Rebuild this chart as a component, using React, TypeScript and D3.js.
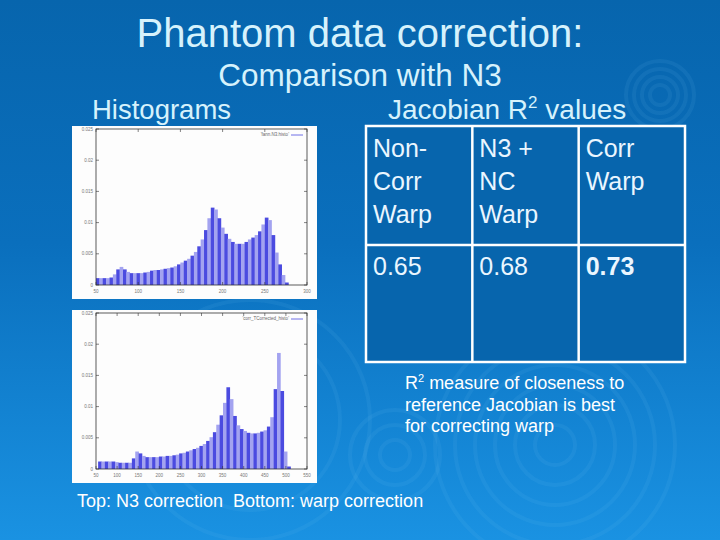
import React from 'react';
import * as d3 from 'd3';

// top histogram (N3 correction), bin width 4
const topBins = [50, 54, 58, 62, 66, 70, 74, 78, 82, 86, 90, 94, 98, 102, 106, 110, 114, 118, 122, 126, 130, 134, 138, 142, 146, 150, 154, 158, 162, 166, 170, 174, 178, 182, 186, 190, 194, 198, 202, 206, 210, 214, 218, 222, 226, 230, 234, 238, 242, 246, 250, 254, 258, 262, 266, 270, 274];
const topValues = [0.0011, 0.0011, 0.0011, 0.0011, 0.0012, 0.0017, 0.0025, 0.0029, 0.0025, 0.0021, 0.0019, 0.0019, 0.0019, 0.0019, 0.002, 0.0021, 0.0023, 0.0024, 0.0024, 0.0025, 0.0026, 0.0027, 0.0028, 0.003, 0.0033, 0.0036, 0.0039, 0.0042, 0.0047, 0.0053, 0.0062, 0.0073, 0.0088, 0.0107, 0.0124, 0.0121, 0.0107, 0.0092, 0.0082, 0.0074, 0.0069, 0.0066, 0.0066, 0.0066, 0.0069, 0.0073, 0.0076, 0.008, 0.0086, 0.0097, 0.0108, 0.0104, 0.008, 0.0052, 0.0033, 0.0016, 0.0004];

// bottom histogram (warp correction), bin width 8
const bottomBins = [55, 63, 71, 79, 87, 95, 103, 111, 119, 127, 135, 143, 151, 159, 167, 175, 183, 191, 199, 207, 215, 223, 231, 239, 247, 255, 263, 271, 279, 287, 295, 303, 311, 319, 327, 335, 343, 351, 359, 367, 375, 383, 391, 399, 407, 415, 423, 431, 439, 447, 455, 463, 471, 479, 487, 495, 503];
const bottomValues = [0.0012, 0.0012, 0.0012, 0.0012, 0.0012, 0.0011, 0.001, 0.001, 0.001, 0.001, 0.0017, 0.0028, 0.0025, 0.0021, 0.0019, 0.0019, 0.0019, 0.0019, 0.002, 0.002, 0.0021, 0.0021, 0.0022, 0.0023, 0.0025, 0.0026, 0.0028, 0.003, 0.0032, 0.0034, 0.0037, 0.004, 0.0045, 0.0051, 0.0059, 0.0071, 0.0086, 0.0106, 0.0131, 0.0112, 0.0085, 0.007, 0.0064, 0.0061, 0.0058, 0.0057, 0.0057, 0.0058, 0.006, 0.0062, 0.0068, 0.0083, 0.0128, 0.0186, 0.0125, 0.0028, 0.0004];

const topXTicks = [50, 100, 150, 200, 250, 300];
const bottomXTicks = [50, 100, 150, 200, 250, 300, 350, 400, 450, 500, 550];
const yTicks = [0, 0.005, 0.01, 0.015, 0.02, 0.025];

const tableHeaders = [['Non-', 'Corr', 'Warp'], ['N3 +', 'NC', 'Warp'], ['Corr', 'Warp']];
const tableValues = ['0.65', '0.68', '0.73'];

const FONT = 'Liberation Sans, Arial, sans-serif';

interface HistProps {
  top: number;
  bins: number[];
  values: number[];
  binWidth: number;
  xTicks: number[];
  legend: string;
}

const Histogram: React.FC<HistProps> = ({ top, bins, values, binWidth, xTicks, legend }) => {
  const left = 96, right = 307;
  const plotTop = top + 2, plotBottom = top + 158;
  const x = d3.scaleLinear().domain([xTicks[0], xTicks[xTicks.length - 1]]).range([left, right]);
  const y = d3.scaleLinear().domain([0, 0.025]).range([plotBottom, plotTop]);
  const bw = x(bins[0] + binWidth) - x(bins[0]);
  const fmt = (v: number) => (v === 0 ? '0' : String(+v.toFixed(3)));
  return (
    <g>
      <rect x={72} y={top - 1} width={245} height={173} fill="#fdfdfd" />
      {bins.map((b, i) => (
        <rect key={b} x={x(b)} y={y(values[i])} width={bw + 0.3}
          height={plotBottom - y(values[i])}
          fill={i % 2 === 0 ? '#4b4be0' : '#a3a3f0'} />
      ))}
      <rect x={left} y={plotTop} width={right - left} height={plotBottom - plotTop}
        fill="none" stroke="#333" strokeWidth={0.8} />
      {yTicks.map(t => (
        <g key={t}>
          <line x1={left} x2={left + 3} y1={y(t)} y2={y(t)} stroke="#333" strokeWidth={0.6} />
          <line x1={right} x2={right - 3} y1={y(t)} y2={y(t)} stroke="#333" strokeWidth={0.6} />
          <text x={left - 3} y={y(t) + 1.5} fontSize={4.5} textAnchor="end" fill="#777" fontFamily={FONT}>{fmt(t)}</text>
        </g>
      ))}
      {xTicks.map(t => (
        <g key={t}>
          <line x1={x(t)} x2={x(t)} y1={plotBottom} y2={plotBottom - 3} stroke="#333" strokeWidth={0.6} />
          <line x1={x(t)} x2={x(t)} y1={plotTop} y2={plotTop + 3} stroke="#333" strokeWidth={0.6} />
          <text x={x(t)} y={plotBottom + 8} fontSize={4.5} textAnchor="middle" fill="#777" fontFamily={FONT}>{t}</text>
        </g>
      ))}
      <text x={right - 18} y={plotTop + 7} fontSize={4.5} textAnchor="end" fill="#666" fontFamily={FONT}>{legend}</text>
      <line x1={right - 16} x2={right - 4} y1={plotTop + 6} y2={plotTop + 6} stroke="#4b4be0" strokeWidth={0.8} />
    </g>
  );
};

const App: React.FC = () => {
  const colX = d3.scaleBand<number>().domain([0, 1, 2]).range([366, 685]);
  const rings = [
    { cx: 660, cy: 95, r: [10, 18, 26, 34] },
    { cx: 555, cy: 445, r: [20, 40, 60, 80, 100, 120] },
    { cx: 395, cy: 455, r: [15, 30, 45] },
    { cx: 250, cy: 420, r: [30, 60, 90, 120] },
  ];
  return (
    <svg width={720} height={540} style={{ position: 'absolute', left: 0, top: 0 }}>
      <defs>
        <linearGradient id="bg" x1="0" y1="0" x2="0" y2="1">
          <stop offset="0" stopColor="#0765ad" />
          <stop offset="0.45" stopColor="#0a6fbd" />
          <stop offset="1" stopColor="#1a92e2" />
        </linearGradient>
      </defs>
      <rect width={720} height={540} fill="url(#bg)" />
      {rings.map((g, i) => g.r.map(r => (
        <circle key={`${i}-${r}`} cx={g.cx} cy={g.cy} r={r} fill="none" stroke="#7cc4f5" strokeOpacity={0.09} strokeWidth={4} />
      )))}

      <text x={360} y={47} textAnchor="middle" fontSize={40} fill="#d6f2fc" fontFamily={FONT}>Phantom data correction:</text>
      <text x={360} y={86} textAnchor="middle" fontSize={31.5} fill="#d6f2fc" fontFamily={FONT}>Comparison with N3</text>
      <text x={92} y={119} fontSize={27.5} fill="#d6f2fc" fontFamily={FONT}>Histograms</text>
      <text x={388} y={119} fontSize={28} fill="#d6f2fc" fontFamily={FONT}>
        Jacobian R<tspan fontSize={17} dy={-11}>2</tspan><tspan dy={11}> values</tspan>
      </text>

      <Histogram top={127} bins={topBins} values={topValues} binWidth={4} xTicks={topXTicks} legend="'fann.N3.histo'" />
      <Histogram top={311} bins={bottomBins} values={bottomValues} binWidth={8} xTicks={bottomXTicks} legend="'corr_TCorrected_histo'" />

      <g fontFamily={FONT} fill="#ffffff">
        <rect x={366} y={126} width={319} height={236} fill="#0765ad" stroke="#ffffff" strokeWidth={2.5} />
        <line x1={366} x2={685} y1={245} y2={245} stroke="#ffffff" strokeWidth={2.5} />
        {[1, 2].map(i => (
          <line key={i} x1={colX(i)} x2={colX(i)} y1={126} y2={362} stroke="#ffffff" strokeWidth={2.5} />
        ))}
        {tableHeaders.map((lines, i) => lines.map((l, j) => (
          <text key={`${i}-${j}`} x={(colX(i) as number) + 7} y={157 + j * 33} fontSize={25} fill="#eaf6ff">{l}</text>
        )))}
        {tableValues.map((v, i) => (
          <text key={v} x={(colX(i) as number) + 7} y={275} fontSize={25}
            fontWeight={i === 2 ? 'bold' : 'normal'} fill="#eaf6ff">{v}</text>
        ))}
      </g>

      <g fontFamily={FONT} fontSize={18} fill="#ffffff">
        <text x={405} y={389}>R<tspan fontSize={11} dy={-7}>2</tspan><tspan dy={7}> measure of closeness to</tspan></text>
        <text x={405} y={411}>reference Jacobian is best</text>
        <text x={405} y={432}>for correcting warp</text>
        <text x={77} y={507} style={{ whiteSpace: 'pre' }}>{'Top: N3 correction  Bottom: warp correction'}</text>
      </g>
    </svg>
  );
};

export default App;
